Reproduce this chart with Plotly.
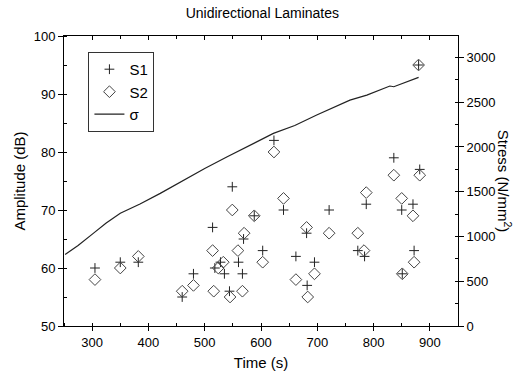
import plotly.graph_objects as go

# S1 events (time s, amplitude dB)
s1_time = [305, 350, 382, 460, 480, 514, 518, 528, 535, 544, 549, 560, 567, 569, 588,
           603, 623, 640, 662, 681, 682, 695, 721, 772, 784, 787, 836, 850, 851, 870,
           872, 882, 880]
s1_amp = [60, 61, 61, 55, 59, 67, 60, 61, 59, 56, 74, 61, 59, 65, 69,
          63, 82, 70, 62, 66, 57, 61, 70, 63, 62, 71, 79, 70, 59, 71,
          63, 77, 95]

# S2 events
s2_time = [305, 350, 382, 460, 480, 514, 516, 524, 533, 545, 549, 559, 567, 570, 588,
           603, 623, 640, 662, 681, 683, 695, 721, 772, 783, 787, 836, 850, 851, 872,
           870, 882, 880]
s2_amp = [58, 60, 62, 56, 57, 63, 56, 60, 61, 55, 70, 63, 56, 66, 69,
          61, 80, 72, 58, 67, 55, 59, 66, 66, 63, 73, 76, 72, 59, 61,
          69, 76, 95]

# Stress curve (time s, stress N/mm^2)
sig_time = [252, 275, 302, 325, 350, 385, 421, 462, 500, 540, 580, 600, 622, 660,
            699, 758, 788, 829, 836, 880]
sig_val = [800, 900, 1035, 1150, 1259, 1363, 1482, 1631, 1760, 1890, 2022, 2080, 2152, 2240,
           2357, 2524, 2580, 2681, 2673, 2778]

FONT = "Liberation Sans, Arial, sans-serif"

fig = go.Figure()
fig.add_trace(go.Scatter(x=s1_time, y=s1_amp, mode="markers", name="S1",
                         marker=dict(symbol="cross-thin", size=7, color="black",
                                     line=dict(width=1, color="#222"))))
fig.add_trace(go.Scatter(x=s2_time, y=s2_amp, mode="markers", name="S2",
                         marker=dict(symbol="diamond-open", size=9, color="#444",
                                     line=dict(width=1))))
fig.add_trace(go.Scatter(x=sig_time, y=sig_val, mode="lines", name="σ", yaxis="y2",
                         line=dict(color="#222", width=1.2)))

fig.update_layout(
    width=530, height=380,
    margin=dict(l=64, r=72, t=36, b=54),
    paper_bgcolor="white", plot_bgcolor="white",
    font=dict(family=FONT, size=13, color="black"),
    title=dict(text="Unidirectional Laminates", x=0.495, xanchor="center", y=0.965,
               yanchor="middle", font=dict(size=14)),
    showlegend=True,
    legend=dict(x=0.062, y=0.945, xanchor="left", yanchor="top",
                bordercolor="#333", borderwidth=1, bgcolor="white",
                font=dict(size=15), itemwidth=30, tracegroupgap=0),
    xaxis=dict(range=[250, 950], dtick=100, tick0=300, showline=True, linecolor="black",
               linewidth=1, mirror=True, ticks="outside", ticklen=4, tickcolor="black",
               showgrid=False, zeroline=False,
               minor=dict(dtick=50, ticks="inside", ticklen=3, tickcolor="black"),
               title=dict(text="Time (s)", font=dict(size=15), standoff=8)),
    xaxis2=dict(range=[250, 950], overlaying="x", side="top", dtick=100, tick0=300,
                ticks="inside", ticklen=4, tickcolor="black", showticklabels=False,
                showgrid=False, zeroline=False,
                minor=dict(dtick=50, ticks="inside", ticklen=3, tickcolor="black")),
    yaxis=dict(range=[50, 100], dtick=10, showline=True, linecolor="black", linewidth=1,
               ticks="outside", ticklen=5, tickcolor="black", showgrid=False, zeroline=False,
               minor=dict(dtick=5, ticks="inside", ticklen=3, tickcolor="black"),
               title=dict(text="Amplitude (dB)", font=dict(size=15), standoff=4)),
    yaxis2=dict(range=[0, 3240], dtick=500, overlaying="y", side="right", showline=True,
                linecolor="black", linewidth=1, ticks="outside", ticklen=5, tickcolor="black",
                showgrid=False, zeroline=False,
                minor=dict(dtick=250, ticks="inside", ticklen=3, tickcolor="black")),
    annotations=[dict(text="Stress (N/mm<sup>2</sup>)", textangle=90, xref="paper", yref="paper",
                      x=1.12, y=0.5, xanchor="center", yanchor="middle", showarrow=False,
                      font=dict(size=15))],
)
# invisible trace so the top axis ticks are drawn
fig.add_trace(go.Scatter(x=[250], y=[50], xaxis="x2", mode="markers",
                         marker=dict(opacity=0), showlegend=False, hoverinfo="skip"))

fig.write_html("out.html")
